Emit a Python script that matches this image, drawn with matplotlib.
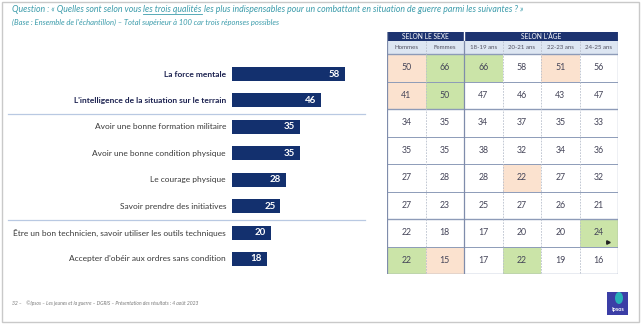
import matplotlib.pyplot as plt
from matplotlib.patches import Rectangle, Ellipse

# qualities and overall scores
qualities = ['La force mentale',
             "L'intelligence de la situation sur le terrain",
             'Avoir une bonne formation militaire',
             'Avoir une bonne condition physique',
             'Le courage physique',
             'Savoir prendre des initiatives',
             'Être un bon technicien, savoir utiliser les outils techniques',
             "Accepter d'obéir aux ordres sans condition"]
totals = [58, 46, 35, 35, 28, 25, 20, 18]
bold_rows = [0, 1]

# breakdown by sex and age
groups = ['SELON LE SEXE', "SELON L'ÂGE"]
group_span = [2, 4]
columns = ['Hommes', 'Femmes', '18-19 ans', '20-21 ans', '22-23 ans', '24-25 ans']
breakdown = [[50, 66, 66, 58, 51, 56],
             [41, 50, 47, 46, 43, 47],
             [34, 35, 34, 37, 35, 33],
             [35, 35, 38, 32, 34, 36],
             [27, 28, 28, 22, 27, 32],
             [27, 23, 25, 27, 26, 21],
             [22, 18, 17, 20, 20, 24],
             [22, 15, 17, 22, 19, 16]]
# significantly lower (-1) / higher (+1) than the total
signif = [[-1, 1, 1, 0, -1, 0],
          [-1, 1, 0, 0, 0, 0],
          [0, 0, 0, 0, 0, 0],
          [0, 0, 0, 0, 0, 0],
          [0, 0, 0, -1, 0, 0],
          [0, 0, 0, 0, 0, 0],
          [0, 0, 0, 0, 0, 1],
          [1, -1, 0, 1, 0, 0]]

question = ('Question : « Quelles sont selon vous ', 'les trois qualités',
            ' les plus indispensables pour un combattant en situation de guerre parmi les suivantes ? »')
base = "(Base : Ensemble de l'échantillon) – Total supérieur à 100 car trois réponses possibles"
footer = '32 –    ©Ipsos – Les jeunes et la guerre – DGRIS – Présentation des résultats : 4 août 2023'

navy = '#13306e'
teal = '#3c9cab'
peach = '#fbe2cf'
green = '#cbe4a8'
W, H = 643, 324

plt.rcParams['font.family'] = ['Lato', 'DejaVu Sans']
fig = plt.figure(figsize=(W / 100, H / 100), dpi=100)


def px_axes(x0, y0, x1, y1):
    return fig.add_axes([x0 / W, 1 - y1 / H, (x1 - x0) / W, (y1 - y0) / H])


bg = px_axes(0, 0, W, H)
bg.set_xlim(0, W)
bg.set_ylim(H, 0)
bg.axis('off')
bg.add_patch(Rectangle((1.5, 1.5), 637, 320, fill=False, ec='#c9c9c9', lw=1))

# question text with underlined part
fig.canvas.draw()
r = fig.canvas.get_renderer()
x = 12
for i, part in enumerate(question):
    t = bg.text(x, 10, part, fontsize=6.3, style='italic', color=teal, va='center')
    bb = t.get_window_extent(r)
    if i == 1:
        bg.plot([x, x + bb.width], [14.4, 14.4], color=teal, lw=0.6)
    x += bb.width
bg.text(12, 22, base, fontsize=5.5, style='italic', color=teal, va='center')

# horizontal bars
ax = px_axes(232, 60.8, 232 + 1.94 * 60, 272.2)
ypos = list(range(len(totals)))
ax.barh(ypos, totals, height=0.53, color=navy)
ax.set_xlim(0, 60)
ax.set_ylim(len(totals) - 0.5, -0.5)
ax.axis('off')
for i, (q, v) in enumerate(zip(qualities, totals)):
    bold = i in bold_rows
    ax.annotate(q, xy=(0, i), xytext=(-6, 0), textcoords='offset pixels',
                ha='right', va='center', fontsize=6,
                fontweight='bold' if bold else 'normal',
                color='#1c2250' if bold else '#3a3a3a')
    ax.annotate(str(v), xy=(v, i), xytext=(-5, 0), textcoords='offset pixels',
                ha='right', va='center', fontsize=7, fontweight='bold', color='white')
for y in (114, 219.5):
    bg.plot([8, 365], [y, y], color='#b9c9e2', lw=0.9)

# table of breakdowns
tb = px_axes(387, 32, 618, 274)
nrow, ncol = len(breakdown), len(columns)
tb.set_xlim(0, ncol)
tb.set_ylim(nrow, -0.8)
tb.axis('off')
narrow = ['Liberation Sans Narrow', 'Lato', 'DejaVu Sans']
c0 = 0
for g, span in zip(groups, group_span):
    tb.add_patch(Rectangle((c0, -0.8), span, 0.33, fc='#1d3370', ec='none'))
    tb.text(c0 + span / 2, -0.635, g, ha='center', va='center', fontsize=4.8,
            color='white', family=narrow)
    c0 += span
tb.plot([2, 2], [-0.8, -0.47], color='white', lw=1)
for j, c in enumerate(columns):
    tb.add_patch(Rectangle((j, -0.47), 1, 0.47, fc='#dde6f2', ec='none'))
    tb.text(j + 0.5, -0.235, c, ha='center', va='center', fontsize=4.4,
            color='#505060', family=narrow)
colors = {-1: peach, 1: green, 0: 'white'}
for i, row in enumerate(breakdown):
    for j, v in enumerate(row):
        tb.add_patch(Rectangle((j, i), 1, 1, fc=colors[signif[i][j]], ec='none'))
        tb.text(j + 0.5, i + 0.5, str(v), ha='center', va='center', fontsize=6.3,
                color='#444458')
for i in range(nrow + 1):
    tb.plot([0, ncol], [i, i], color='#8d9bb8', lw=1.0 if i in (0, 2, 6, nrow) else 0.7)
for j in range(1, ncol):
    if j == 2:
        tb.plot([j, j], [-0.47, nrow], color='#7f8cab', lw=0.9)
    else:
        tb.plot([j, j], [-0.47, nrow], color='#b8bfcc', lw=0.6, ls=(0, (2, 1.5)))
tb.plot([0, 0], [-0.8, nrow], color='#7f8cab', lw=0.9)
tb.plot([ncol, ncol], [-0.8, nrow], color='#7f8cab', lw=0.9)
tb.plot([5.73], [6.84], marker='>', ms=2.5, color='#222222')

# footer and logo
bg.text(12, 303, footer, fontsize=3.6, style='italic', color='#7a7a7a', va='center')
bg.add_patch(Rectangle((607, 292), 21, 23, fc='#3b3ea6', ec='none'))
bg.add_patch(Ellipse((619, 298), 8, 12, fc='#27b0b8', ec='none'))
bg.text(617.5, 309.5, 'Ipsos', ha='center', va='center', fontsize=4,
        fontweight='bold', color='white')

fig.savefig('out.png', dpi=100)
